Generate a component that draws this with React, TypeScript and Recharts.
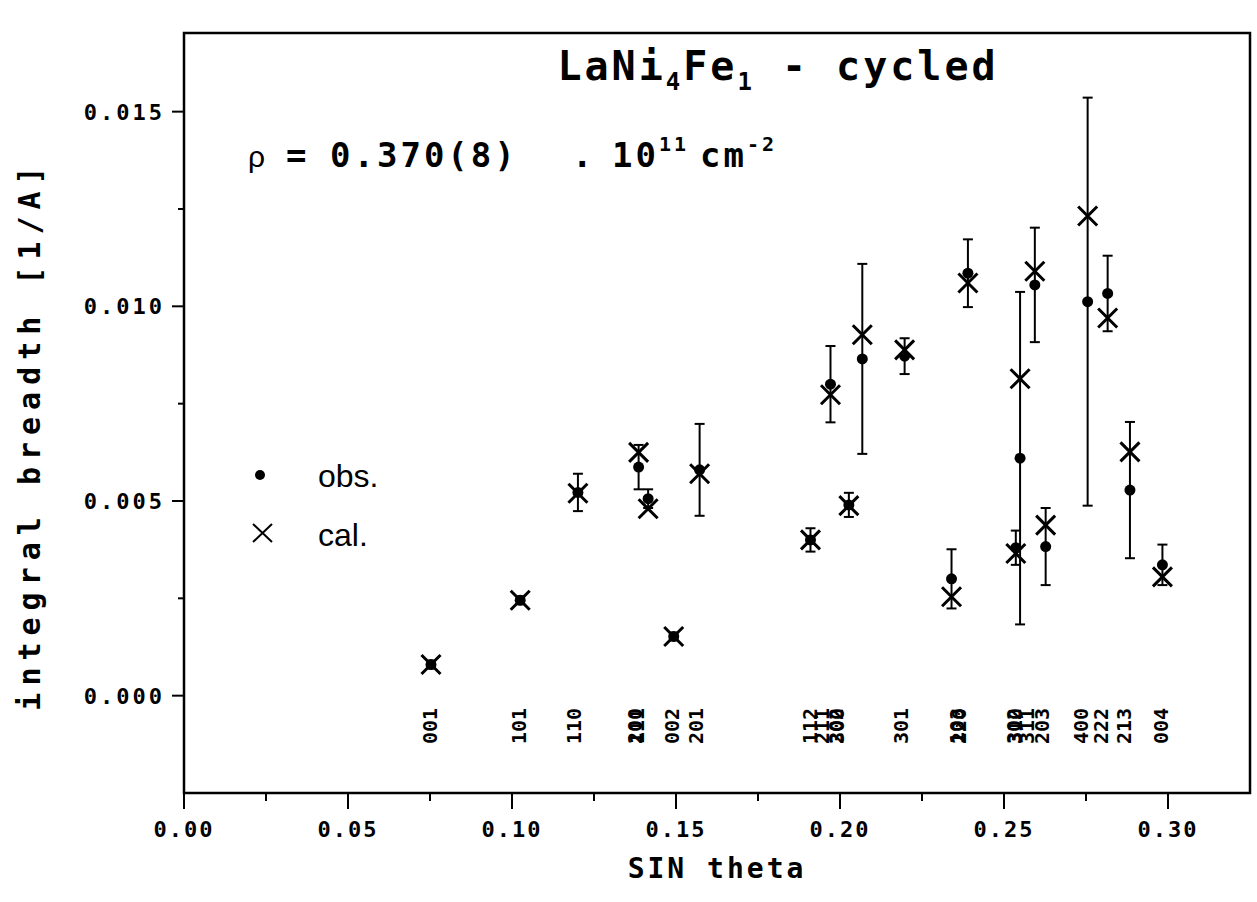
import React from "react";
import {
  ScatterChart,
  Scatter,
  XAxis,
  YAxis,
  ErrorBar,
  ReferenceArea,
} from "recharts";

// reflections, sin(theta) position, observed / calculated integral breadth [1/A]
const reflections = ["001", "101", "110", "200", "111", "002", "201", "112", "211", "202", "300", "301", "103", "220", "310", "302", "311", "203", "400", "222", "213", "004"];
const sinTheta = [0.0753, 0.1025, 0.1201, 0.1386, 0.1415, 0.1493, 0.1572, 0.191, 0.1971, 0.2027, 0.2068, 0.2197, 0.234, 0.239, 0.2536, 0.2549, 0.2594, 0.2627, 0.2755, 0.2816, 0.2884, 0.2983];
const observed = [0.0008, 0.00245, 0.00522, 0.00587, 0.00506, 0.00152, 0.0058, 0.004, 0.008, 0.0049, 0.00865, 0.00872, 0.003, 0.01085, 0.0038, 0.0061, 0.01055, 0.00383, 0.01012, 0.01033, 0.00528, 0.00336];
const calculated = [0.0008, 0.00245, 0.0052, 0.00625, 0.0048, 0.00152, 0.0057, 0.004, 0.00773, 0.00488, 0.00927, 0.00888, 0.00254, 0.0106, 0.00365, 0.00814, 0.0109, 0.00438, 0.01232, 0.0097, 0.00626, 0.00305];
const obsError = [0.0001, 0.0001, 0.00048, 0.00057, 0.00024, 0.0001, 0.00118, 0.0003, 0.00098, 0.00031, 0.00244, 0.00046, 0.00076, 0.00087, 0.00044, 0.00427, 0.00147, 0.00099, 0.00524, 0.00097, 0.00175, 0.00052];

// hkl labels written along the bottom of the plot
const hklText = ["001", "101", "110", "200", "111", "002", "201", "112", "211", "202", "300", "301", "103", "220", "302", "310", "311", "203", "400", "222", "213", "004"];
const hklPos = [0.0751, 0.1022, 0.119, 0.1376, 0.1382, 0.1489, 0.156, 0.191, 0.1946, 0.1987, 0.199, 0.2185, 0.2358, 0.2362, 0.253, 0.2533, 0.2571, 0.2617, 0.2734, 0.2795, 0.2865, 0.2978];
const hklLevel = -0.00078;

const xTicks = [0, 0.025, 0.05, 0.075, 0.1, 0.125, 0.15, 0.175, 0.2, 0.225, 0.25, 0.275, 0.3];
const yTicks = [0, 0.0025, 0.005, 0.0075, 0.01, 0.0125, 0.015];
const xDomain = [0, 0.325];
const yDomain = [-0.0025, 0.01702];

const obsData = sinTheta.map((x, i) => ({ x, y: observed[i], err: obsError[i], hkl: reflections[i] }));
const calData = sinTheta.map((x, i) => ({ x, y: calculated[i], hkl: reflections[i] }));
const hklData = hklText.map((label, i) => ({ x: hklPos[i], y: hklLevel, label }));

const MONO = "'DejaVu Sans Mono', monospace";

const Dot = ({ cx, cy }: any) => <circle cx={cx} cy={cy} r={5.5} fill="#000" />;

const Cross = ({ cx, cy }: any) => (
  <path
    d={`M${cx - 9.5},${cy - 9.5}L${cx + 9.5},${cy + 9.5}M${cx + 9.5},${cy - 9.5}L${cx - 9.5},${cy + 9.5}`}
    stroke="#000"
    strokeWidth={3}
    fill="none"
  />
);

const HklLabel = ({ cx, cy, payload }: any) => (
  <text
    x={cx}
    y={cy}
    transform={`rotate(-90 ${cx} ${cy})`}
    textAnchor="middle"
    dominantBaseline="central"
    fontFamily={MONO}
    fontWeight="bold"
    fontSize={20}
    fill="#000"
  >
    {payload.label}
  </text>
);

const XTick = ({ x, y, payload }: any) => {
  const major = Math.round(payload.value * 1000) % 50 === 0;
  return (
    <g>
      <line x1={x} y1={y} x2={x} y2={y + (major ? 16 : 8)} stroke="#000" strokeWidth={2} />
      {major && (
        <text x={x} y={y + 44} textAnchor="middle" fontFamily={MONO} fontWeight="bold" fontSize={22} letterSpacing={2} fill="#000">
          {payload.value.toFixed(2)}
        </text>
      )}
    </g>
  );
};

const YTick = ({ x, y, payload }: any) => {
  const major = Math.round(payload.value * 10000) % 50 === 0;
  return (
    <g>
      <line x1={x} y1={y} x2={x - (major ? 12 : 6)} y2={y} stroke="#000" strokeWidth={2} />
      {major && (
        <text x={x - 19} y={y + 8} textAnchor="end" fontFamily={MONO} fontWeight="bold" fontSize={22} letterSpacing={3} fill="#000">
          {payload.value.toFixed(3)}
        </text>
      )}
    </g>
  );
};

export default function App() {
  return (
    <div style={{ position: "absolute", left: 0, top: 0, width: 1257, height: 902, background: "#fff" }}>
      <ScatterChart width={1257} height={902} margin={{ top: 33, right: 7, bottom: 0, left: 0 }}>
        <XAxis
          type="number"
          dataKey="x"
          domain={xDomain}
          ticks={xTicks}
          interval={0}
          allowDataOverflow
          axisLine={false}
          tickLine={false}
          tickSize={0}
          tickMargin={0}
          height={109}
          tick={<XTick />}
        />
        <YAxis
          type="number"
          dataKey="y"
          domain={yDomain}
          ticks={yTicks}
          interval={0}
          allowDataOverflow
          axisLine={false}
          tickLine={false}
          tickSize={0}
          tickMargin={0}
          width={184}
          tick={<YTick />}
        />
        <ReferenceArea
          x1={xDomain[0]}
          x2={xDomain[1]}
          y1={yDomain[0]}
          y2={yDomain[1]}
          fill="none"
          stroke="#000"
          strokeWidth={2.5}
          fillOpacity={0}
        />
        <Scatter data={hklData} shape={<HklLabel />} isAnimationActive={false} />
        <Scatter data={obsData} shape={<Dot />} isAnimationActive={false}>
          <ErrorBar dataKey="err" direction="y" width={5} stroke="#000" strokeWidth={2} isAnimationActive={false} />
        </Scatter>
        <Scatter data={calData} shape={<Cross />} isAnimationActive={false} />
      </ScatterChart>

      <svg
        width={1257}
        height={902}
        style={{ position: "absolute", left: 0, top: 0, pointerEvents: "none" }}
      >
        <text x={778} y={80} textAnchor="middle" fontFamily={MONO} fontWeight="bold" fontSize={40} letterSpacing={3} fill="#000">
          LaNi
          <tspan fontSize={24} dy={10}>4</tspan>
          <tspan dy={-10}>Fe</tspan>
          <tspan fontSize={24} dy={10}>1</tspan>
          <tspan dy={-10}> - cycled</tspan>
        </text>

        <text y={167} fontFamily={MONO} fontWeight="bold" fontSize={34} letterSpacing={3} fill="#000">
          <tspan x={248} fontFamily="'Liberation Sans', sans-serif" fontWeight="normal" fontSize={30}>ρ</tspan>
          <tspan x={286}>=</tspan>
          <tspan x={330}>0.370(8)</tspan>
          <tspan x={572}>.</tspan>
          <tspan x={612}>10</tspan>
          <tspan fontSize={20} dy={-16}>11</tspan>
          <tspan x={700} dy={16}>cm</tspan>
          <tspan fontSize={20} dy={-16}>-2</tspan>
        </text>

        <text
          x={40}
          y={435}
          transform="rotate(-90 40 435)"
          textAnchor="middle"
          fontFamily={MONO}
          fontWeight="bold"
          fontSize={30}
          letterSpacing={7}
          fill="#000"
        >
          integral breadth [1/A]
        </text>

        <text x={717} y={878} textAnchor="middle" fontFamily={MONO} fontWeight="bold" fontSize={28} letterSpacing={3} fill="#000">
          SIN theta
        </text>

        <circle cx={260} cy={475} r={5} fill="#000" />
        <text x={318} y={487} fontFamily="'Liberation Sans', Arial, sans-serif" fontSize={32} fill="#000">obs.</text>
        <path d="M253,524L272,542M272,524L253,542" stroke="#000" strokeWidth={2} />
        <text x={318} y={546} fontFamily="'Liberation Sans', Arial, sans-serif" fontSize={32} fill="#000">cal.</text>
      </svg>
    </div>
  );
}
